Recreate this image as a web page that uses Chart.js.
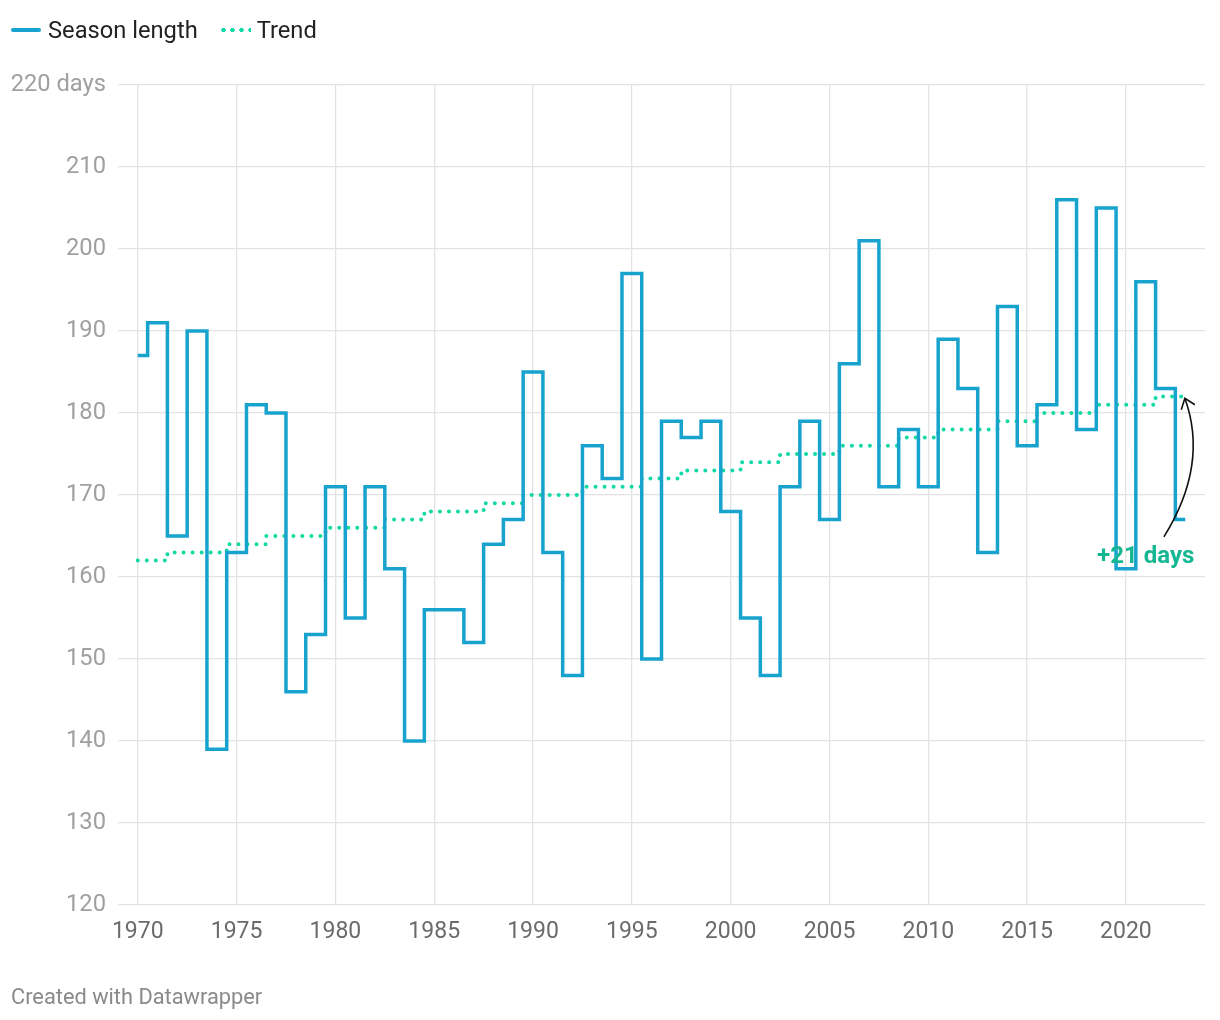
<!DOCTYPE html>
<html>
<head>
<meta charset="utf-8">
<script src="https://cdn.jsdelivr.net/npm/chart.js@4.4.1/dist/chart.umd.min.js"></script>
<style>
  html, body { margin: 0; padding: 0; background: #fff; }
  body { width: 1220px; height: 1020px; position: relative; overflow: hidden; font-family: Roboto, "Noto Sans", sans-serif; }
  #legend { position: absolute; left: 11px; top: 16px; display: flex; align-items: center; font-size: 23.7px; color: #222; line-height: 28px; }
  .item { display: flex; align-items: center; margin-right: 21px; }
  .sw-line { width: 30px; height: 0; border-top: 4px solid #18a3cf; border-radius: 2px; margin-right: 7px; }
  .sw-dots { width: 32px; height: 4px; margin-right: 6px;
    background-image: radial-gradient(circle, #10d9a3 2px, transparent 2.3px);
    background-size: 9px 4px; background-repeat: repeat-x; }
  #footer { position: absolute; left: 11px; top: 984px; font-size: 21.8px; color: #8a8a8a; }
  #wrap { position: absolute; left: 0; top: 0; width: 1220px; height: 1020px; }
</style>
</head>
<body>
<div id="wrap"><canvas id="c" width="1220" height="1020"></canvas></div>
<div id="legend">
  <div class="item"><span class="sw-line"></span><span>Season length</span></div>
  <div class="item"><span class="sw-dots"></span><span>Trend</span></div>
</div>
<div id="footer">Created with Datawrapper</div>
<script>
const years = [1970,1971,1972,1973,1974,1975,1976,1977,1978,1979,
               1980,1981,1982,1983,1984,1985,1986,1987,1988,1989,
               1990,1991,1992,1993,1994,1995,1996,1997,1998,1999,
               2000,2001,2002,2003,2004,2005,2006,2007,2008,2009,
               2010,2011,2012,2013,2014,2015,2016,2017,2018,2019,
               2020,2021,2022,2023];
const seasonLength = [187,191,165,190,139,163,181,180,146,153,
                      171,155,171,161,140,156,156,152,164,167,
                      185,163,148,176,172,197,150,179,177,179,
                      168,155,148,171,179,167,186,201,171,178,
                      171,189,183,163,193,176,181,206,178,205,
                      161,196,183,167];
const trend = [162,162,163,163,163,164,164,165,165,165,
               166,166,166,167,167,168,168,168,169,169,
               170,170,170,171,171,171,172,172,173,173,
               173,174,174,175,175,175,176,176,176,177,
               177,178,178,178,179,179,180,180,180,181,
               181,181,182,182];
const xTicks = [1970,1975,1980,1985,1990,1995,2000,2005,2010,2015,2020];
const yTicks = [120,130,140,150,160,170,180,190,200,210,220];
const yUnitLabel = "days";
const annotationText = "+21 days";

const BLUE = "#18a3cf";
const GREEN = "#10d9a3";
const ANNO = "#15b792";
const FONT = "Roboto, 'Noto Sans', sans-serif";

const annotationPlugin = {
  id: "anno",
  afterDatasetsDraw(chart) {
    const { ctx, scales: { x, y } } = chart;
    ctx.save();
    ctx.font = "bold 24px " + FONT;
    ctx.fillStyle = ANNO;
    ctx.textAlign = "center";
    ctx.textBaseline = "middle";
    ctx.fillText(annotationText, x.getPixelForValue(2021.0), y.getPixelForValue(162.4));
    const p0 = { x: x.getPixelForValue(2021.92), y: y.getPixelForValue(164.9) };
    const c  = { x: x.getPixelForValue(2024.2),  y: y.getPixelForValue(173.7) };
    const p2 = { x: x.getPixelForValue(2022.98), y: y.getPixelForValue(181.8) };
    ctx.strokeStyle = "#111";
    ctx.lineWidth = 1.6;
    ctx.beginPath();
    ctx.moveTo(p0.x, p0.y);
    ctx.quadraticCurveTo(c.x, c.y, p2.x, p2.y);
    ctx.stroke();
    const ang = Math.atan2(p2.y - c.y, p2.x - c.x);
    const L = 12, spread = 0.65;
    ctx.beginPath();
    ctx.moveTo(p2.x - L * Math.cos(ang - spread), p2.y - L * Math.sin(ang - spread));
    ctx.lineTo(p2.x, p2.y);
    ctx.lineTo(p2.x - L * Math.cos(ang + spread), p2.y - L * Math.sin(ang + spread));
    ctx.stroke();
    ctx.restore();
  }
};

new Chart(document.getElementById("c"), {
  type: "line",
  data: {
    datasets: [
      {
        label: "Season length",
        data: years.map((yr, i) => ({ x: yr, y: seasonLength[i] })),
        borderColor: BLUE,
        borderWidth: 3.5,
        stepped: "middle",
        pointRadius: 0,
        borderJoinStyle: "miter",
        fill: false
      },
      {
        label: "Trend",
        data: years.map((yr, i) => ({ x: yr, y: trend[i] })),
        borderColor: GREEN,
        borderWidth: 4,
        borderDash: [0.01, 9],
        borderCapStyle: "round",
        stepped: "middle",
        pointRadius: 0,
        fill: false
      }
    ]
  },
  options: {
    responsive: false,
    animation: false,
    devicePixelRatio: 1,
    layout: { padding: { top: 85, right: 15, bottom: 65, left: 0 } },
    plugins: { legend: { display: false }, tooltip: { enabled: false } },
    scales: {
      x: {
        type: "linear",
        min: 1969,
        max: 2024,
        afterBuildTicks: s => { s.ticks = xTicks.map(v => ({ value: v })); },
        afterFit: s => { s.height = 50; },
        grid: { color: "#e3e3e3", lineWidth: 1.3, drawTicks: false },
        border: { display: false },
        ticks: {
          padding: 13,
          color: "#6b6b6b",
          font: { family: FONT, size: 23 },
          maxRotation: 0,
          autoSkip: false,
          callback: v => String(v)
        }
      },
      y: {
        min: 120,
        max: 220,
        afterBuildTicks: s => { s.ticks = yTicks.map(v => ({ value: v })); },
        afterFit: s => { s.width = 118; },
        grid: { color: "#e3e3e3", lineWidth: 1.3, drawTicks: false },
        border: { display: false },
        ticks: {
          padding: 12,
          color: "#a0a0a0",
          font: { family: FONT, size: 23.7 },
          autoSkip: false,
          callback: v => v === yTicks[yTicks.length - 1] ? v + " " + yUnitLabel : String(v)
        }
      }
    }
  },
  plugins: [annotationPlugin]
});
</script>
</body>
</html>
